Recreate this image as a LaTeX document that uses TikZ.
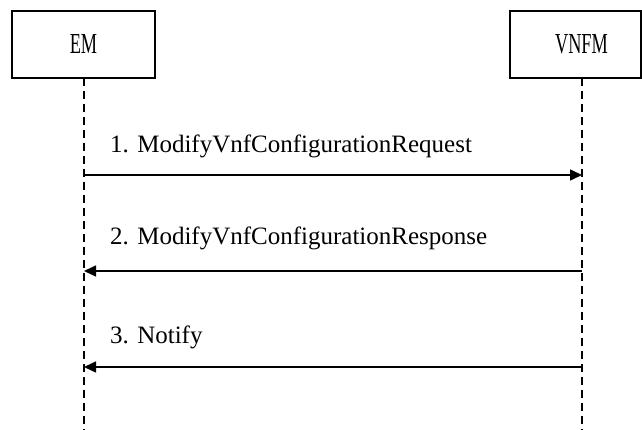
\documentclass[tikz,border=0pt]{standalone}
\usepackage{fontspec}
\setmainfont{Liberation Serif}
\usetikzlibrary{arrows.meta}
\tikzset{
  actor/.style={draw, line width=1.5pt, rectangle, inner sep=0pt, minimum height=67pt, font=\fontsize{29}{30}\selectfont},
  lifeline/.style={line width=1.3pt, dash pattern=on 8pt off 5pt},
  msg/.style={line width=1.5pt, -{Triangle[length=12pt,width=11pt]}},
  msglabel/.style={anchor=base west, inner sep=0pt, font=\fontsize{25}{27}\selectfont}
}
\begin{document}
\begin{tikzpicture}[x=1pt,y=-1pt]
\useasboundingbox (0,0) rectangle (642,430);
\node[actor, minimum width=143pt] (em) at (83.5,44.5) {\scalebox{0.63}[1]{EM}};
\node[actor, minimum width=131pt] (vnfm) at (575.5,44.5) {\hspace{12pt}\scalebox{0.63}[1]{VNFM}};
\coordinate (emtop) at (84,78);
\coordinate (embot) at (84,430);
\coordinate (vtop) at (582,78);
\coordinate (vbot) at (582,430);
\draw[lifeline] (emtop) -- (embot);
\draw[lifeline] (vtop) -- (vbot);
\coordinate (e1) at (84,175);
\coordinate (v1) at (582,175);
\coordinate (e2) at (84,271);
\coordinate (v2) at (582,271);
\coordinate (e3) at (84,367);
\coordinate (v3) at (582,367);
\draw[msg] (e1) -- (v1);
\draw[msg] (v2) -- (e2);
\draw[msg] (v3) -- (e3);
\node[msglabel] (l1) at (110,153) {1. ModifyVnfConfigurationRequest};
\node[msglabel] (l2) at (110,245) {2. ModifyVnfConfigurationResponse};
\node[msglabel] (l3) at (110,343) {3. Notify};
\end{tikzpicture}
\end{document}
